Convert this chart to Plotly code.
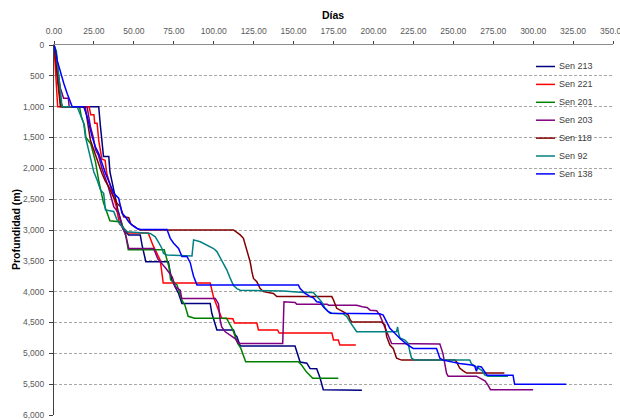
import plotly.graph_objects as go

# Series names and line colours
series_names = ["Sen 213", "Sen 221", "Sen 201", "Sen 203", "Sen 118", "Sen 92", "Sen 138"]
series_colors = ["#000080", "#FF0000", "#008000", "#800080", "#800000", "#008080", "#0000FF"]

# Days vs depth (m) per well
sen213_dias = [0, 1, 2, 3, 4, 5, 28, 29, 30, 31, 34.3, 35, 37.4, 40, 43.6, 46.8, 54, 55.1, 57.5,
               71.6, 72.7, 73.8, 75.8, 78, 80.1, 97.8, 98.8, 102, 112.4, 113.4, 114.5, 116.6,
               150.9, 152.5, 154.1, 158.3, 160.3, 164.5, 166.6, 168.6, 192.8]
sen213_prof = [0, 250, 500, 700, 900, 1000, 1000, 1300, 1600, 1810, 1810, 2055, 2350, 2680, 3000, 3080, 3080, 3240, 3515,
               3515, 3675, 3810, 3920, 4030, 4190, 4190, 4350, 4620, 4620, 4700, 4730, 4880,
               4880, 5000, 5140, 5160, 5245, 5250, 5400, 5590, 5600]

sen221_dias = [0, 1, 2.3, 22, 23, 25, 25.5, 27, 28, 30, 32, 33, 35, 37, 39, 41, 43, 46.5, 59,
               62, 66.5, 68.4, 97.8, 100, 105, 112, 113, 127, 128, 140, 141, 174, 175, 178, 179, 189]
sen221_prof = [0, 400, 1000, 1000, 1130, 1130, 1270, 1270, 1550, 1850, 1870, 2080, 2250, 2450, 2620, 2900, 2950, 3050, 3050,
               3250, 3490, 3860, 3860, 4100, 4430, 4440, 4510, 4510, 4620, 4620, 4670, 4670, 4785, 4785, 4865, 4865]

sen201_dias = [0, 1.5, 2.5, 3.5, 4.5, 5.5, 16, 17, 19, 20, 23, 26, 28, 31, 35, 42, 45, 46.5, 69,
               72, 73, 77, 80, 82, 84, 88, 108, 112, 113, 115, 117, 119, 120, 153, 155, 158, 162, 178]
sen201_prof = [0, 100, 400, 750, 950, 1000, 1000, 1150, 1300, 1500, 1600, 1900, 2200, 2560, 2850, 2870, 3100, 3320, 3320,
               3600, 3810, 3890, 4135, 4220, 4400, 4430, 4430, 4620, 4700, 4840, 4920, 5075, 5135, 5135, 5190, 5300, 5405, 5405]

sen203_dias = [0, 1, 2, 4, 6, 9, 9.5, 20.7, 22.8, 24.7, 26, 27.8, 30, 32, 34, 37.4, 40.5, 42.6, 44.7, 46.8,
               62.4, 65, 70, 74, 76, 79, 80, 101, 103, 104, 105, 107.2, 110.3, 113.4, 115.5, 143.2, 144,
               151, 152, 171, 172, 189.5, 193, 196, 198, 202, 204, 207, 209, 211.4, 241.6, 243.5, 245.8,
               246.8, 264.5, 267, 270, 271.7, 273.3, 300]
sen203_prof = [0, 150, 400, 700, 865, 865, 1000, 1000, 1320, 1510, 1700, 1785, 2000, 2150, 2300, 2620, 2730, 2950, 3055, 3300,
               3300, 3470, 3620, 3760, 3920, 3975, 4110, 4110, 4200, 4460, 4570, 4650, 4700, 4760, 4840, 4840, 4165,
               4175, 4205, 4205, 4220, 4220, 4245, 4255, 4300, 4310, 4380, 4570, 4700, 4840, 4850, 5000, 5325,
               5370, 5370, 5405, 5450, 5515, 5590, 5590]

sen118_dias = [0, 1, 2, 3, 4, 19.5, 21, 22.8, 26, 28, 30, 32, 34.3, 37, 39.5, 41.6, 43.6, 46.8, 48, 52, 54,
               112.4, 116.6, 118.6, 120.8, 122.8, 123.9, 124.9, 127, 129, 131.1, 137.4, 139.5, 173.9, 175,
               176, 177, 181, 184.3, 185.3, 186.4, 205, 207.2, 208.3, 210.3, 212.4, 214.5, 217.6, 251, 252,
               254, 256, 258.3, 282]
sen118_prof = [0, 250, 550, 850, 1000, 1000, 1250, 1540, 1785, 1950, 2080, 2200, 2300, 2450, 2570, 2620, 2785, 2800, 2900, 2975, 3000,
               3000, 3080, 3135, 3325, 3515, 3675, 3785, 3840, 3945, 4000, 4030, 4080, 4080, 4135,
               4220, 4270, 4325, 4380, 4450, 4490, 4490, 4540, 4730, 4865, 4920, 5080, 5110, 5110, 5135,
               5240, 5280, 5320, 5320]

sen92_dias = [0, 1, 2, 3, 4, 5, 14.5, 16.6, 18.6, 19.7, 21.8, 23.9, 24.9, 27, 29.1, 31.1, 32.2, 37.4, 39.5,
              42.6, 45.8, 60.3, 63.4, 65.5, 67.6, 68.6, 70.75, 86.4, 87.4, 91.6, 95.75, 99.9, 102, 104.1,
              106.1, 108.25, 110.3, 112.4, 114.5, 116.6, 143.6, 156.1, 162.4, 164.5, 167.6, 169.7, 172.8,
              181.1, 183.25, 185.3, 187.4, 189.5, 214.5, 215.1, 215.8, 216.6, 219.7, 221.8, 222.8, 223.9,
              225.9, 260.3, 261.4, 263, 265.5, 268, 269.7, 271.75, 284.25]
sen92_prof = [0, 100, 250, 500, 800, 1000, 1000, 1135, 1270, 1490, 1700, 1920, 2055, 2190, 2350, 2405, 2675, 2700, 2840,
              2945, 3030, 3055, 3110, 3200, 3300, 3380, 3405, 3420, 3160, 3190, 3245, 3300, 3350, 3450,
              3550, 3650, 3780, 3900, 3950, 3975, 3990, 4015, 4015, 4080, 4165, 4270, 4350,
              4360, 4400, 4490, 4570, 4650, 4650, 4570, 4680, 4750, 4785, 4840, 4975, 5080,
              5110, 5110, 5170, 5200, 5245, 5280, 5350, 5370, 5370]

sen138_dias = [0, 1, 2, 3, 4.1, 6.1, 8.25, 10.3, 11.4, 18.6, 20.75, 23.9, 25.9, 28, 30.1, 32.2, 35.3, 37.4,
               40.5, 42.6, 44.7, 46.75, 48.9, 52, 54.1, 70.75, 72.8, 74.9, 78, 80.1, 83.25, 85.3, 86.4, 87.4,
               89.5, 153, 154, 156.1, 157.2, 159.25, 160.3, 162.4, 164.5, 166.6, 168.6, 171.75, 173.9, 204,
               206.1, 208.25, 210.3, 213.4, 216.6, 220.75, 222.8, 224.9, 239.5, 241.6, 243.6, 247.8, 254,
               261.4, 263.4, 264.5, 265.5, 267.6, 269.7, 271.1, 287.4, 288.4, 320.75]
sen138_prof = [0, 100, 250, 350, 460, 620, 785, 920, 1000, 1000, 1160, 1490, 1650, 1760, 1920, 2080, 2270, 2405,
               2485, 2730, 2785, 2865, 2920, 2975, 2990, 2990, 3135, 3215, 3300, 3430, 3430, 3530, 3650, 3750,
               3890, 3890, 3945, 4000, 4030, 4060, 4080, 4100, 4165, 4170, 4245, 4325, 4350, 4360,
               4380, 4490, 4595, 4675, 4760, 4850, 4890, 4920, 4920, 5080, 5110, 5135, 5165,
               5190, 5205, 5290, 5210, 5220, 5290, 5355, 5355, 5500, 5500]

series_dias = [sen213_dias, sen221_dias, sen201_dias, sen203_dias, sen118_dias, sen92_dias, sen138_dias]
series_prof = [sen213_prof, sen221_prof, sen201_prof, sen203_prof, sen118_prof, sen92_prof, sen138_prof]

# Axis ticks
x_ticks = [0, 25, 50, 75, 100, 125, 150, 175, 200, 225, 250, 275, 300, 325, 350]
y_ticks = [0, 500, 1000, 1500, 2000, 2500, 3000, 3500, 4000, 4500, 5000, 5500, 6000]

W, H = 620, 420
ML, MR, MT, MB = 54, 7, 45, 5

fig = go.Figure()
for name, color, xs, ys in zip(series_names, series_colors, series_dias, series_prof):
    fig.add_trace(go.Scatter(x=xs, y=ys, mode="lines", name=name,
                             line=dict(color=color, width=1.5), showlegend=False))

# Pixel -> paper helpers for the legend and axis titles
plot_w = W - ML - MR
plot_h = H - MT - MB
def px_to_paper_x(px):
    return (px - ML) / plot_w
def px_to_paper_y(py):
    return 1 - (py - MT) / plot_h

# Legend: line samples with labels at the right of the plot area
leg_top, leg_step = 66.5, 17.9
for i, (name, color) in enumerate(zip(series_names, series_colors)):
    py = leg_top + i * leg_step
    fig.add_shape(type="line", xref="paper", yref="paper",
                  x0=px_to_paper_x(536), x1=px_to_paper_x(555),
                  y0=px_to_paper_y(py), y1=px_to_paper_y(py),
                  line=dict(color=color, width=1.5))
    fig.add_annotation(xref="paper", yref="paper", x=px_to_paper_x(556.5), y=px_to_paper_y(py),
                       text=name, showarrow=False, xanchor="left", yanchor="middle",
                       font=dict(family="Liberation Sans, Arial", size=9, color="#404040"))

# Axis titles
fig.add_annotation(xref="paper", yref="paper", x=px_to_paper_x(333), y=px_to_paper_y(14.5),
                   text="<b>Días</b>", showarrow=False, xanchor="center", yanchor="middle",
                   font=dict(family="Liberation Sans, Arial", size=10.5, color="black"))
fig.add_annotation(xref="paper", yref="paper", x=px_to_paper_x(16), y=px_to_paper_y(230),
                   text="<b>Profundidad (m)</b>", showarrow=False, textangle=-90,
                   xanchor="center", yanchor="middle",
                   font=dict(family="Liberation Sans, Arial", size=10.5, color="black"))

fig.update_layout(
    width=W, height=H,
    margin=dict(l=ML, r=MR, t=MT, b=MB, autoexpand=False),
    paper_bgcolor="white", plot_bgcolor="white",
    font=dict(family="Liberation Sans, Arial", size=8.5, color="#595959"),
    xaxis=dict(
        side="top", range=[0, 350], tickvals=x_ticks, tickformat=".2f",
        showgrid=False, zeroline=False, automargin=False,
        showline=True, linecolor="#8c8c8c", linewidth=1,
        ticks="outside", ticklen=3, tickcolor="#404040", ticklabelstandoff=4,
        ticklabeloverflow="allow",
    ),
    yaxis=dict(
        range=[6000, 0], tickvals=y_ticks, tickformat=",d",
        showgrid=True, gridcolor="#a6a6a6", gridwidth=1, griddash="3px,2px",
        zeroline=False, automargin=False,
        showline=True, linecolor="#404040", linewidth=1,
        ticks="outside", ticklen=4, tickcolor="#404040", ticklabelstandoff=3,
        ticklabeloverflow="allow",
    ),
)

fig.write_html("out.html")
